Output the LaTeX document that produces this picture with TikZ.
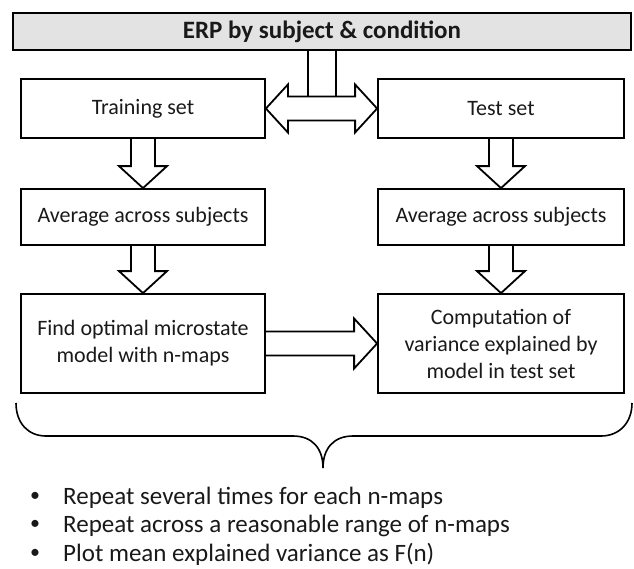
\documentclass[tikz,border=0pt]{standalone}
\usepackage{fontspec}
\setmainfont{Carlito}
\usetikzlibrary{calc}
\definecolor{txt}{RGB}{25,25,25}
\definecolor{topfill}{RGB}{227,227,227}
\newcommand\downblock[2]{\draw[barrow] ($(#1)+(-12,0)$) -- ($(#2)+(-12,-22)$) -- ($(#2)+(-24,-22)$) -- (#2) -- ($(#2)+(24,-22)$) -- ($(#2)+(12,-22)$) -- ($(#1)+(12,0)$);}
\begin{document}
\begin{tikzpicture}[x=1pt,y=-1pt,
  box/.style={draw=black, line width=1.8pt, rectangle, inner sep=2pt, align=center, text=txt, font=\fontsize{22}{27}\selectfont},
  barrow/.style={draw=black, line width=1.8pt, line join=miter},
  bul/.style={inner sep=0pt, text=txt, font=\fontsize{20}{28}\selectfont},
  itemtext/.style={inner sep=0pt, anchor=base west, text=txt, font=\fontsize{25}{28}\selectfont},
]
\useasboundingbox (0,0) rectangle (634,568);
% boxes
\node[box, fill=topfill, minimum width=618pt, minimum height=37pt, font=\bfseries\fontsize{25}{27}\selectfont] (top) at (322,31.5) {ERP by subject \& condition};
\node[box, minimum width=244pt, minimum height=59pt] (train) at (143,108.5) {Training set};
\node[box, minimum width=246pt, minimum height=59pt] (test) at (501,108.5) {Test set};
\node[box, minimum width=244pt, minimum height=56pt] (avgL) at (143,217) {Average across subjects};
\node[box, minimum width=246pt, minimum height=56pt] (avgR) at (501,217) {Average across subjects};
\node[box, minimum width=244pt, minimum height=99pt] (botL) at (143,343.5) {Find optimal microstate\\model with n-maps};
\node[box, minimum width=246pt, minimum height=99pt] (botR) at (501,343.5) {Computation of\\variance explained by\\model in test set};
% double arrow with stem
\coordinate (dl) at (train.east);
\coordinate (dr) at (test.west);
\draw[barrow] (dl) -- ++(22,-24) -- ++(0,12) -- ($(dr)+(-22,-12)$) -- ++(0,-12) -- (dr) -- ++(-22,24) -- ++(0,-12) -- ($(dl)+(22,12)$) -- ++(0,12) -- cycle;
\coordinate (st1) at ($(top.south)+(-14,0)$);
\coordinate (st2) at ($(top.south)+(14,0)$);
\coordinate (sh) at ($(dl)+(0,-12)$);
\draw[barrow] (st1) -- (st1 |- sh);
\draw[barrow] (st2) -- (st2 |- sh);
% down arrows
\downblock{train.south}{avgL.north}
\downblock{test.south}{avgR.north}
\downblock{avgL.south}{botL.north}
\downblock{avgR.south}{botR.north}
% horizontal arrow
\draw[barrow] ($(botL.east)+(0,-12)$) -- ($(botR.west)+(-23,-12)$) -- ($(botR.west)+(-23,-25)$) -- (botR.west) -- ($(botR.west)+(-23,25)$) -- ($(botR.west)+(-23,12)$) -- ($(botL.east)+(0,12)$);
% brace
\draw[line width=1.6pt] (16,403) .. controls (16,423) and (28,436) .. (46,436) -- (293,436) .. controls (312,436) and (323,448) .. (323,468) .. controls (323,448) and (334,436) .. (353,436) -- (601,436) .. controls (619,436) and (632,423) .. (632,403);
% bullet list
\node[bul] (b1) at (35,497) {\textbullet};
\node[bul] (b2) at (35,525) {\textbullet};
\node[bul] (b3) at (35,554) {\textbullet};
\node[itemtext] (t1) at (63,504) {Repeat several times for each n-maps};
\node[itemtext] (t2) at (63,532) {Repeat across a reasonable range of n-maps};
\node[itemtext] (t3) at (63,561) {Plot mean explained variance as F(n)};
\end{tikzpicture}
\end{document}
